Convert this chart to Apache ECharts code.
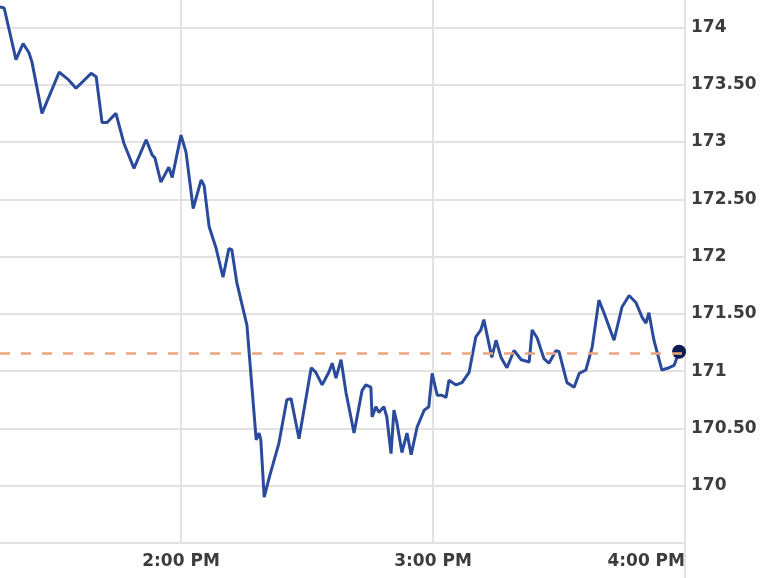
<!DOCTYPE html>
<html><head><meta charset="utf-8">
<script src="https://cdn.jsdelivr.net/npm/echarts@6/dist/echarts.min.js"></script>
<style>html,body{margin:0;padding:0;background:#fff}#c{width:770px;height:578px}</style>
</head><body><div id="c"></div>
<script>
// time of day in minutes since midnight (840 = 2:00 PM)
const minutes = [796.7,797.9,800.7,802.4,803.8,804.5,806.9,811.0,813.3,815.0,818.6,819.8,821.2,822.4,824.5,826.4,828.8,831.7,833.1,833.8,835.2,837.1,837.9,840.0,841.2,842.9,844.8,845.5,846.7,848.3,850.0,851.4,852.1,853.3,855.7,857.9,858.6,859.0,859.8,861.0,863.3,865.2,866.2,868.1,871.0,872.1,873.6,875.2,876.0,876.9,878.1,879.3,881.2,883.1,884.0,885.2,885.5,886.4,887.1,888.3,889.0,890.0,890.7,891.4,892.6,893.8,894.8,896.2,897.9,899.0,899.8,901.0,902.1,903.1,903.8,905.5,906.9,908.6,910.2,911.4,912.1,914.0,915.0,916.2,917.6,919.3,921.0,922.9,923.6,924.8,926.4,927.6,929.3,930.0,931.9,933.6,934.8,936.4,937.9,939.5,940.7,941.2,943.1,945.0,946.7,948.3,949.8,950.7,951.4,952.6,954.5,956.2,957.4,958.6];
const prices = [174.18,174.17,173.72,173.86,173.78,173.70,173.25,173.61,173.54,173.47,173.60,173.57,173.17,173.17,173.25,172.99,172.77,173.02,172.89,172.86,172.65,172.78,172.69,173.06,172.91,172.42,172.67,172.62,172.26,172.08,171.82,172.07,172.06,171.77,171.40,170.40,170.46,170.40,169.90,170.07,170.37,170.75,170.76,170.41,171.03,170.99,170.88,170.99,171.07,170.94,171.10,170.81,170.46,170.83,170.88,170.86,170.60,170.69,170.64,170.69,170.60,170.28,170.66,170.55,170.29,170.46,170.27,170.51,170.66,170.69,170.98,170.79,170.79,170.77,170.92,170.88,170.90,170.99,171.30,171.36,171.45,171.12,171.27,171.12,171.03,171.18,171.10,171.08,171.36,171.29,171.11,171.07,171.18,171.17,170.90,170.86,170.98,171.01,171.21,171.62,171.51,171.46,171.27,171.56,171.66,171.60,171.47,171.42,171.51,171.27,171.01,171.03,171.05,171.17];
const prevClose = 171.16;
const yTickValues = [170,170.5,171,171.5,172,172.5,173,173.5,174];
const xTickValues = [840,900,960];

const gridColor = '#e2e2e2';
const labelColor = '#3c3c3c';
const fmtY = v => Number.isInteger(v) ? String(v) : v.toFixed(2);
const fmtX = v => { const h = Math.floor(v/60), m = Math.round(v%60); const h12 = h>12?h-12:h; return h12 + ':' + String(m).padStart(2,'0') + ' ' + (h>=12?'PM':'AM'); };

const lineData = minutes.map((t,i)=>[t,prices[i]]);
const last = lineData[lineData.length-1];

const chart = echarts.init(document.getElementById('c'), null, {renderer:'canvas'});
chart.setOption({
  animation:false,
  backgroundColor:'#fff',
  grid:{left:0,right:85,top:0,bottom:35,containLabel:false},
  xAxis:[{
    type:'value', min:796.9, max:960,
    axisLine:{show:true,lineStyle:{color:gridColor,width:2}},
    axisTick:{show:false,customValues:xTickValues},
    splitLine:{show:true,lineStyle:{color:gridColor,width:2}},
    axisLabel:{customValues:xTickValues,formatter:fmtX,color:labelColor,fontFamily:'DejaVu Sans',fontWeight:'bold',fontSize:17,margin:10,alignMaxLabel:'right'}
  },{
    type:'value', min:796.9, max:960, position:'bottom',
    axisLine:{show:false},
    axisTick:{show:true,customValues:[960],length:36,lineStyle:{color:gridColor,width:2}},
    splitLine:{show:false},
    axisLabel:{show:false}
  }],
  yAxis:{
    type:'value', position:'right', min:169.5, max:174.24,
    axisLine:{show:true,lineStyle:{color:gridColor,width:2}},
    axisTick:{show:false,customValues:yTickValues},
    splitLine:{show:true,lineStyle:{color:gridColor,width:2}},
    axisLabel:{customValues:yTickValues,formatter:fmtY,color:labelColor,fontFamily:'DejaVu Sans',fontWeight:'bold',fontSize:17,margin:6}
  },
  series:[{
    type:'line', data:lineData, showSymbol:false, symbol:'none', z:3,
    lineStyle:{color:'#2a4a9c',width:3}, silent:true,
    markLine:{silent:true,symbol:['none','none'],label:{show:false},
      lineStyle:{color:'#eba57c',width:2.5,type:[10,11]},
      data:[{yAxis:prevClose}]}
  },{
    type:'scatter', data:[last], symbol:'circle', symbolSize:14, z:4, clip:false,
    itemStyle:{color:'#0c1c55',opacity:1}, silent:true
  }]
});
</script></body></html>
